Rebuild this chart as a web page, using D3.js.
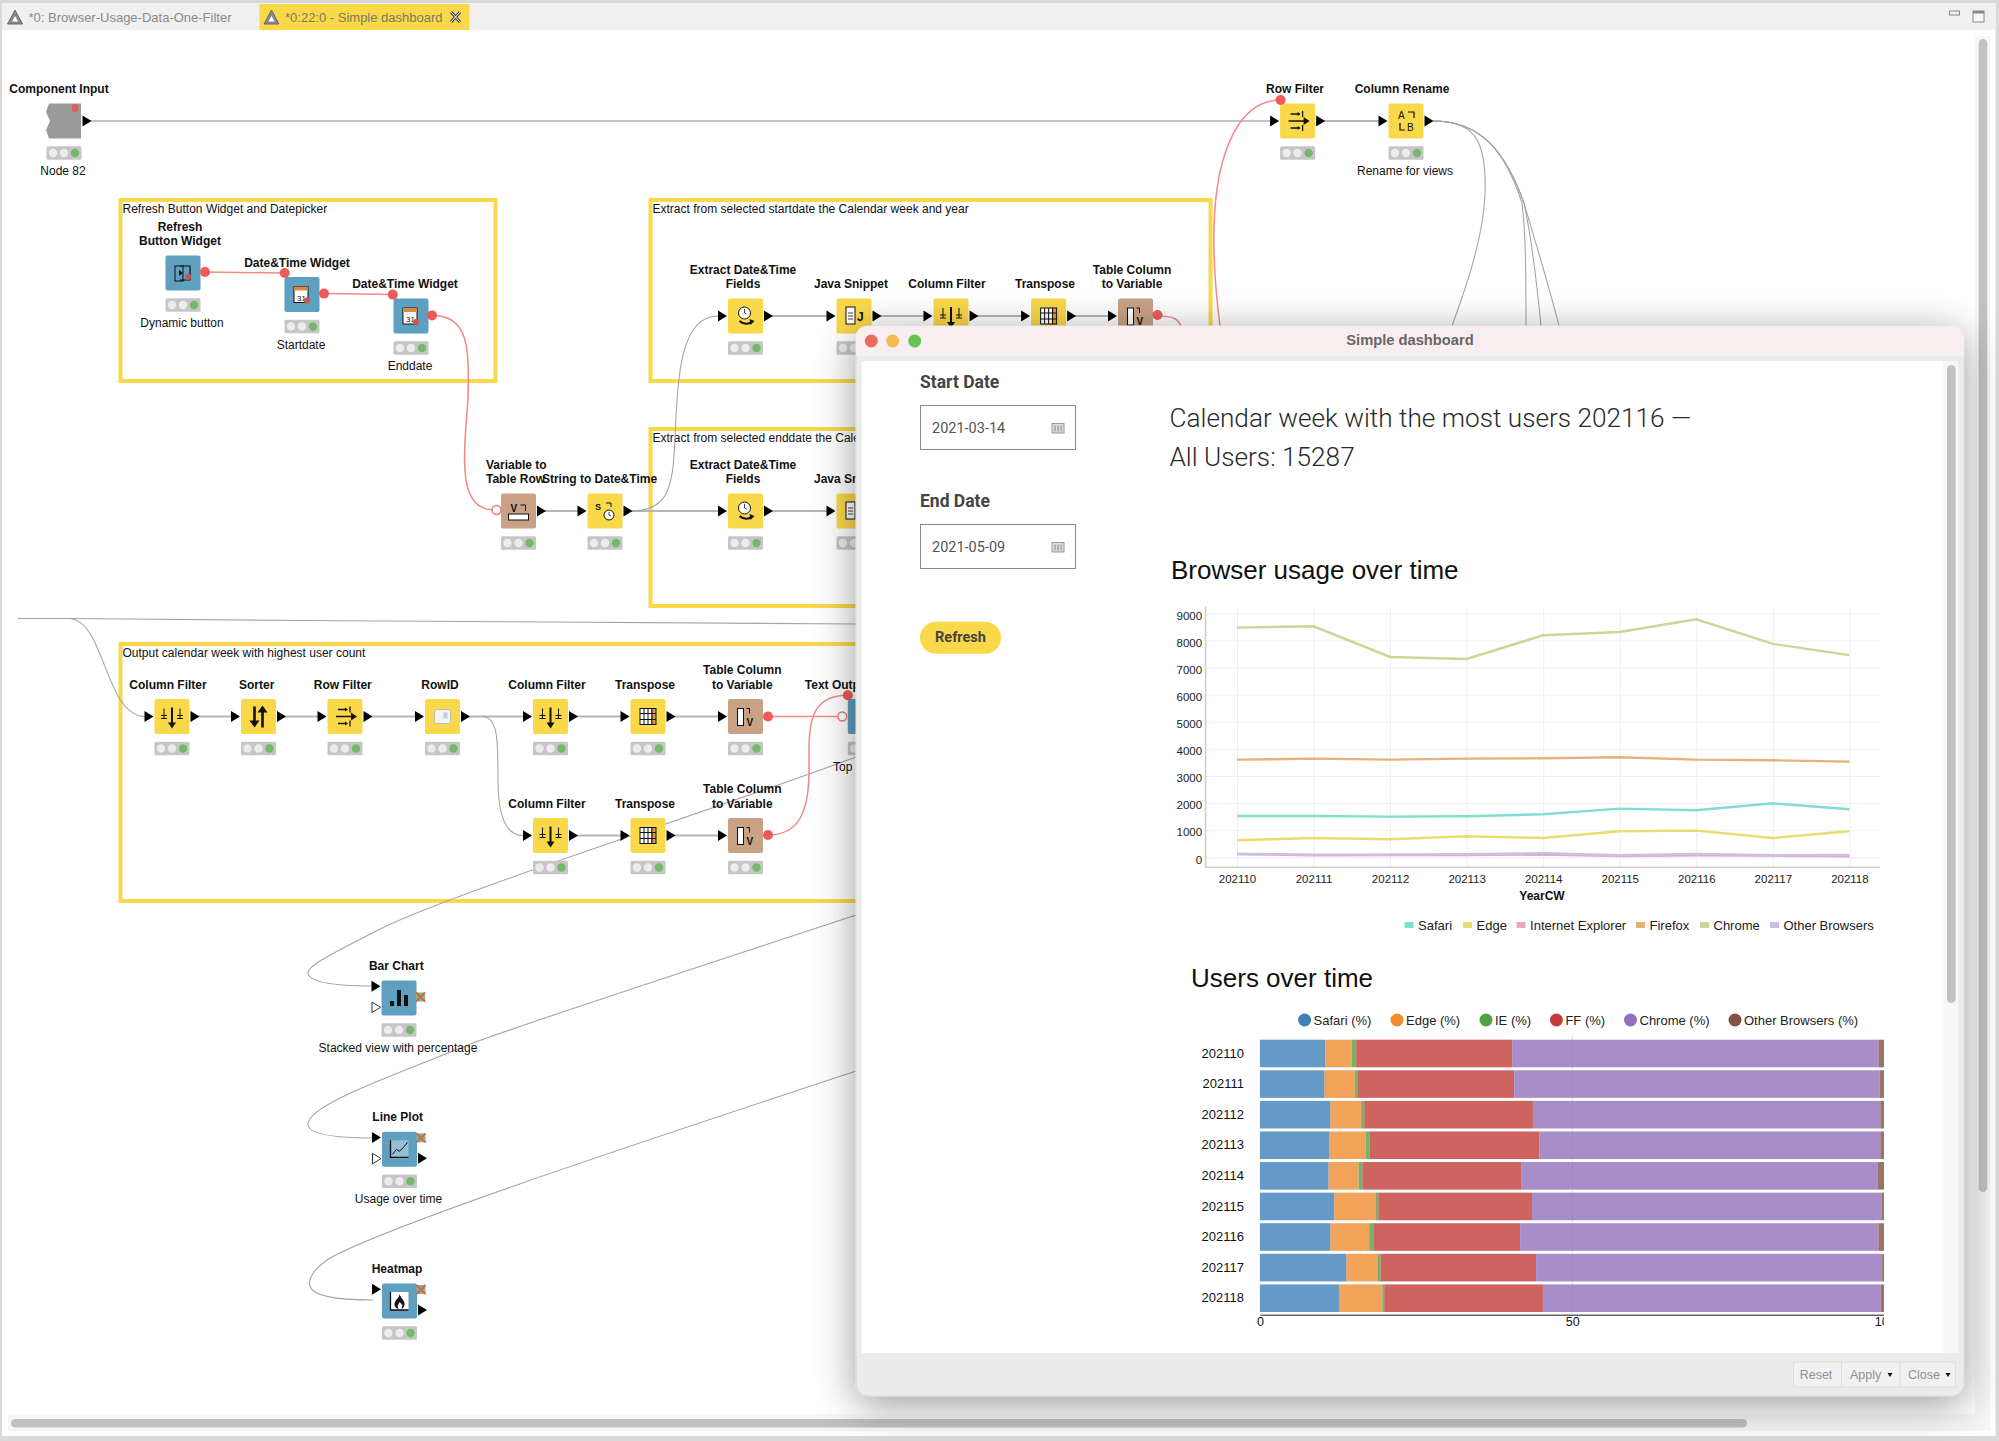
<!DOCTYPE html>
<html>
<head>
<meta charset="utf-8">
<title>Simple dashboard</title>
<script src="https://cdn.jsdelivr.net/npm/d3@7"></script>
<style>
  html, body { margin: 0; padding: 0; background: #d9d9d9; }
  svg { display: block; font-family: "Liberation Sans", Arial, sans-serif; }
</style>
</head>
<body>
<svg id="view" width="1999" height="1441"></svg>
<script>
// chart values
const weeks = ["202110", "202111", "202112", "202113", "202114", "202115", "202116", "202117", "202118"];

const safariUsers = [1525, 1525, 1500, 1512, 1586, 1795, 1734, 1992, 1770];
const edgeUsers = [627, 713, 664, 775, 713, 959, 984, 713, 959];
const ieUsers = [120, 75, 86, 86, 100, 50, 75, 60, 40];
const firefoxUsers = [3602, 3640, 3602, 3640, 3652, 3689, 3602, 3578, 3529];
const chromeUsers = [8471, 8520, 7390, 7316, 8188, 8311, 8778, 7874, 7456];
const otherUsers = [123, 98, 98, 110, 147, 74, 123, 74, 86];
const lineNames = ["Safari", "Edge", "Internet Explorer", "Firefox", "Chrome", "Other Browsers"];
const yTicks = [0, 1000, 2000, 3000, 4000, 5000, 6000, 7000, 8000, 9000];

const safariPct = [10.5, 10.35, 11.3, 11.15, 11, 11.9, 11.3, 13.85, 12.65];
const edgePct = [4.2, 4.85, 4.9, 5.75, 4.8, 6.6, 6.2, 4.95, 6.95];
const iePct = [0.7, 0.5, 0.5, 0.7, 0.6, 0.45, 0.65, 0.5, 0.3];
const ffPct = [25, 25, 27, 27.1, 25.4, 24.6, 23.5, 24.9, 25.4];
const chromePct = [58.6, 58.5, 55.6, 54.6, 57.1, 55.95, 57.35, 55.4, 54.05];
const otherPct = [1, 0.8, 0.7, 0.7, 1.1, 0.5, 1, 0.4, 0.65];
const barNames = ["Safari (%)", "Edge (%)", "IE (%)", "FF (%)", "Chrome (%)", "Other Browsers (%)"];
const barTicks = [0, 50, 100];

// workflow canvas behind the dialog
const YELLOW = "#f9d84a", BLUE = "#5f9fc0", BROWN = "#c9a285", GREY = "#9a9a9a";
const workflowNodes = [
  { id: "input", x: 64, y: 121, fill: GREY, icon: "", title: ["Component Input"], tx: 59, note: "Node 82", noIn: true },
  { id: "rf0", x: 1297.6, y: 121, fill: YELLOW, icon: "rowfilter", title: ["Row Filter"], tx: 1295 },
  { id: "ren", x: 1406, y: 121, fill: YELLOW, icon: "rename", title: ["Column Rename"], tx: 1402, note: "Rename for views" },
  { id: "btn", x: 183, y: 273, fill: BLUE, icon: "refresh", title: ["Refresh", "Button Widget"], tx: 180, note: "Dynamic button", noIn: true, noOut: true },
  { id: "start", x: 302, y: 294.5, fill: BLUE, icon: "date", title: ["Date&Time Widget"], tx: 297, note: "Startdate", noIn: true, noOut: true },
  { id: "end", x: 411, y: 316, fill: BLUE, icon: "date", title: ["Date&Time Widget"], tx: 405, note: "Enddate", noIn: true, noOut: true },
  { id: "ex1", x: 745.5, y: 316, fill: YELLOW, icon: "extract", title: ["Extract Date&Time", "Fields"], tx: 743 },
  { id: "js1", x: 854, y: 316, fill: YELLOW, icon: "java", title: ["Java Snippet"], tx: 851 },
  { id: "cf1", x: 951, y: 316, fill: YELLOW, icon: "filter", title: ["Column Filter"], tx: 947 },
  { id: "tr1", x: 1048.6, y: 316, fill: YELLOW, icon: "transpose", title: ["Transpose"], tx: 1045 },
  { id: "tv1", x: 1135.5, y: 316, fill: BROWN, icon: "tcv", title: ["Table Column", "to Variable"], tx: 1132, noOut: true },
  { id: "v2t", x: 518.5, y: 511, fill: BROWN, icon: "v2t", title: ["Variable to", "Table Row"], tx: 486, left: true, noIn: true },
  { id: "s2d", x: 605, y: 511, fill: YELLOW, icon: "s2d", title: ["String to Date&Time"], tx: 599.5 },
  { id: "ex2", x: 745.5, y: 511, fill: YELLOW, icon: "extract", title: ["Extract Date&Time", "Fields"], tx: 743 },
  { id: "js2", x: 854, y: 511, fill: YELLOW, icon: "java", title: ["Java Snippet"], tx: 851 },
  { id: "cf2", x: 172, y: 716.5, fill: YELLOW, icon: "filter", title: ["Column Filter"], tx: 168 },
  { id: "sort", x: 258.5, y: 716.5, fill: YELLOW, icon: "sorter", title: ["Sorter"], tx: 256.7 },
  { id: "rf1", x: 345, y: 716.5, fill: YELLOW, icon: "rowfilter", title: ["Row Filter"], tx: 342.8 },
  { id: "rid", x: 442.5, y: 716.5, fill: YELLOW, icon: "rowid", title: ["RowID"], tx: 440 },
  { id: "cf3", x: 550.5, y: 716.5, fill: YELLOW, icon: "filter", title: ["Column Filter"], tx: 547 },
  { id: "tr3", x: 648, y: 716.5, fill: YELLOW, icon: "transpose", title: ["Transpose"], tx: 645 },
  { id: "tv3", x: 745.5, y: 716.5, fill: BROWN, icon: "tcv", title: ["Table Column", "to Variable"], tx: 742.3, noOut: true },
  { id: "txt", x: 865.3, y: 716.5, fill: BLUE, icon: "", title: ["Text Output"], tx: 838, noIn: true, noOut: true },
  { id: "cf4", x: 550.5, y: 835.5, fill: YELLOW, icon: "filter", title: ["Column Filter"], tx: 547 },
  { id: "tr4", x: 648, y: 835.5, fill: YELLOW, icon: "transpose", title: ["Transpose"], tx: 645 },
  { id: "tv4", x: 745.5, y: 835.5, fill: BROWN, icon: "tcv", title: ["Table Column", "to Variable"], tx: 742.3, noOut: true },
  { id: "bar", x: 399, y: 998, fill: BLUE, icon: "bar", title: ["Bar Chart"], tx: 396.3, note: "Stacked view with percentage", view: true },
  { id: "line", x: 399.5, y: 1149.3, fill: BLUE, icon: "line", title: ["Line Plot"], tx: 397.7, note: "Usage over time", view: true, out2: true },
  { id: "heat", x: 399.5, y: 1301, fill: BLUE, icon: "heat", title: ["Heatmap"], tx: 397, view: true, out2: true }
];
const straightLinks = [
  ["input", "rf0"], ["rf0", "ren"], ["ex1", "js1"], ["js1", "cf1"], ["cf1", "tr1"], ["tr1", "tv1"],
  ["v2t", "s2d"], ["s2d", "ex2"], ["ex2", "js2"],
  ["cf2", "sort"], ["sort", "rf1"], ["rf1", "rid"], ["rid", "cf3"], ["cf3", "tr3"], ["tr3", "tv3"],
  ["cf4", "tr4"], ["tr4", "tv4"]
];
const greyCurves = [
  "M632,511 C665,511 672,490 674,455 C678,400 674,316 718,316",
  "M483,716.5 C498,718 498,740 498,780 C498,815 505,835.5 523,835.5",
  "M18,618.5 L70,618.5 C105,621 105,716 145,716.5",
  "M70,618.5 L300,620.5 L856,624",
  "M1433,121 C1475,121 1487,140 1485,195 C1483,240 1465,290 1452,326",
  "M1433,121 C1480,121 1505,150 1522,203 C1526,235 1526,280 1526,326",
  "M1433,121 C1480,121 1505,150 1524,203 C1532,240 1537,285 1541,326",
  "M1433,121 C1480,121 1505,150 1524,203 C1538,250 1550,290 1559,326",
  "M856,757 C700,815 460,890 378,930 C340,950 307,965 308,973 C309,983 340,986 373,986",
  "M856,915 C720,960 520,1025 473,1043 C400,1073 305,1105 308,1125 C310,1136 345,1138 373,1138",
  "M856,1071 C700,1123 400,1220 330,1258 C315,1268 308,1278 310,1286 C313,1298 345,1300 373,1300"
];
const redCurves = [
  "M205,272 L284.7,273", "M324,293.6 L392.8,294.6",
  "M432,315.4 C470,315 469,350 468,400 C462,470 460,510 496,510",
  "M768,716.5 L842.3,716.5",
  "M768,835 C800,835 809,810 809,770 C809,730 806,695.3 847.8,695.3",
  "M1157.5,316 C1172,316 1180,318 1182,330",
  "M1280.6,100 C1240,100 1216,150 1214,227 C1213,265 1216,295 1220,326"
];
const flowPorts = [[205, 272], [284.7, 273], [324, 293.6], [392.8, 294.6], [432, 315.4], [768, 716.5], [768, 835], [847.8, 695.3], [1157.5, 315], [1280.6, 100]];
const openPorts = [[496.5, 510], [842.3, 716.5]];
const annotations = [
  { x: 120.5, y: 200, w: 375, h: 181, text: "Refresh Button Widget and Datepicker" },
  { x: 650.5, y: 200, w: 560, h: 181, text: "Extract from selected startdate the Calendar week and year" },
  { x: 650.5, y: 429, w: 560, h: 177, text: "Extract from selected enddate the Calendar week and year" },
  { x: 120.5, y: 644, w: 1000, h: 257, text: "Output calendar week with highest user count" }
];

const svg = d3.select("#view");
const defs = svg.append("defs");
const shadow = defs.append("filter").attr("id", "dialogShadow")
  .attr("x", "-15%").attr("y", "-15%").attr("width", "130%").attr("height", "130%");
shadow.append("feDropShadow").attr("dx", 0).attr("dy", 8).attr("stdDeviation", 20)
  .attr("flood-color", "#000").attr("flood-opacity", 0.4);
defs.append("clipPath").attr("id", "barClip").append("rect")
  .attr("x", 1170).attr("y", 1000).attr("width", 714).attr("height", 352);

function text(g, x, y, str, size, opts = {}) {
  return g.append("text").attr("x", x).attr("y", y).text(str)
    .attr("font-size", size)
    .attr("font-weight", opts.weight || 400)
    .attr("font-family", opts.font || null)
    .attr("text-anchor", opts.anchor || "start")
    .attr("fill", opts.fill || "#111");
}

// ----- window chrome -----
const chrome = svg.append("g");
chrome.append("rect").attr("x", 2).attr("y", 3).attr("width", 1993.5).attr("height", 1433).attr("fill", "#fff");
chrome.append("rect").attr("x", 2).attr("y", 3).attr("width", 1993.5).attr("height", 27).attr("fill", "#f0f0f0");
chrome.append("rect").attr("x", 259.5).attr("y", 4).attr("width", 210).attr("height", 26).attr("fill", YELLOW);

function warnTriangle(x, y) {
  chrome.append("path").attr("d", `M${x},${y - 7} L${x + 7.5},${y + 7} L${x - 7.5},${y + 7} Z`)
    .attr("fill", "#888").attr("stroke", "#666");
  chrome.append("path").attr("d", `M${x},${y - 1} L${x + 3},${y + 4.5} L${x - 3},${y + 4.5} Z`).attr("fill", "#fff");
}
warnTriangle(15, 17);
warnTriangle(271.5, 17);
text(chrome, 28.5, 21.5, "*0: Browser-Usage-Data-One-Filter", 13, { fill: "#8a8a8a" });
text(chrome, 285, 21.5, "*0:22:0 - Simple dashboard", 13, { fill: "#7d7a5c" });
chrome.append("path").attr("d", "M451,12 L460,22 M460,12 L451,22").attr("stroke", "#444").attr("stroke-width", 3);
chrome.append("path").attr("d", "M451,12 L460,22 M460,12 L451,22").attr("stroke", "#fff").attr("stroke-width", 1);

chrome.append("rect").attr("x", 1949.5).attr("y", 11).attr("width", 10).attr("height", 4).attr("fill", "#eee").attr("stroke", "#888");
chrome.append("rect").attr("x", 1973).attr("y", 11).attr("width", 11).attr("height", 11).attr("fill", "#f6f6f6").attr("stroke", "#888");
chrome.append("rect").attr("x", 1973).attr("y", 11).attr("width", 11).attr("height", 2.5).attr("fill", "#888");

chrome.append("rect").attr("x", 1975).attr("y", 36).attr("width", 15).attr("height", 1378).attr("fill", "#f6f6f6");
chrome.append("rect").attr("x", 1978.7).attr("y", 39).attr("width", 8.6).attr("height", 1153).attr("rx", 4.3).attr("fill", "#c2c2c2");
chrome.append("rect").attr("x", 8).attr("y", 1414).attr("width", 1982).attr("height", 17).attr("fill", "#f6f6f6");
chrome.append("rect").attr("x", 11).attr("y", 1419).attr("width", 1736).attr("height", 8.6).attr("rx", 4.3).attr("fill", "#c0c0c0");

// ----- workflow -----
const flow = svg.append("g");
const nodeById = new Map(workflowNodes.map((d) => [d.id, d]));

annotations.forEach((d) => {
  flow.append("rect").attr("x", d.x).attr("y", d.y).attr("width", d.w).attr("height", d.h)
    .attr("fill", "none").attr("stroke", YELLOW).attr("stroke-width", 4);
  text(flow, d.x + 2, d.y + 13, d.text, 12);
});

straightLinks.forEach(([a, b]) => {
  const from = nodeById.get(a), to = nodeById.get(b);
  flow.append("line").attr("x1", from.x + 26).attr("y1", from.y).attr("x2", to.x - 26).attr("y2", to.y)
    .attr("stroke", a === "input" ? "#888" : "#b5b5b5").attr("stroke-width", a === "input" ? 1.2 : 2);
});
flow.selectAll("path.curve").data(greyCurves).enter().append("path").attr("class", "curve")
  .attr("d", (d) => d).attr("fill", "none").attr("stroke", "#a5a5a5").attr("stroke-width", 1.1);
flow.selectAll("path.red").data(redCurves).enter().append("path").attr("class", "red")
  .attr("d", (d) => d).attr("fill", "none").attr("stroke", "#f28a84").attr("stroke-width", 1.5);

function drawIcon(g, kind) {
  const stroke = (d, w) => g.append("path").attr("d", d).attr("fill", "none").attr("stroke", "#111").attr("stroke-width", w || 1.4);
  const solid = (d) => g.append("path").attr("d", d).attr("fill", "#111");
  const box = (x, y, w, h, fill) => g.append("rect").attr("x", x).attr("y", y).attr("width", w).attr("height", h)
    .attr("fill", fill || "#fff").attr("stroke", "#111").attr("stroke-width", 1);
  const clock = (x, y, r) => {
    g.append("circle").attr("cx", x).attr("cy", y).attr("r", r).attr("fill", "#fff").attr("stroke", "#111");
    stroke(`M${x},${y - r + 2} L${x},${y} L${x + 2},${y + 1}`, 0.8);
  };
  if (kind === "filter") {
    stroke("M0,-9 L0,8", 2);
    solid("M-4,6 L4,6 L0,12 Z");
    stroke("M-8,-8 L-8,2 M8,-8 L8,2 M-11,-1 L-5,-1 M5,-1 L11,-1 M-11,2 L-5,2 M5,2 L11,2", 1);
  } else if (kind === "sorter") {
    stroke("M-4,-10 L-4,8", 2.6);
    solid("M-9,4 L1,4 L-4,11 Z");
    stroke("M4,-6 L4,11", 2.6);
    solid("M-1,-4 L9,-4 L4,-11 Z");
  } else if (kind === "rowfilter") {
    stroke("M-9,0 L7,0 M-7,-7 L1,-7 M-7,7 L1,7 M5,-10 L5,-4 M5,4 L5,10", 1.3);
    solid("M6,-4 L12,0 L6,4 Z");
    solid("M0,-9 L3,-7 L0,-5 Z");
    solid("M0,5 L3,7 L0,9 Z");
  } else if (kind === "rowid") {
    g.append("rect").attr("x", -8).attr("y", -7).attr("width", 16).attr("height", 14).attr("rx", 2)
      .attr("fill", "#f4f4f4").attr("stroke", "#bbb");
    g.append("rect").attr("x", 1).attr("y", -4).attr("width", 4).attr("height", 6).attr("fill", "#c4cdd8");
  } else if (kind === "transpose") {
    box(-8, -8, 12, 16);
    box(4, -8, 4, 16, "#e59a4a");
    stroke("M-4,-8 L-4,8 M0,-8 L0,8 M-8,-3 L8,-3 M-8,3 L8,3", 1);
  } else if (kind === "tcv") {
    box(-8, -8, 6, 17);
    stroke("M1,-8 L4,-8 L4,-3", 1);
    text(g, 1, 9, "V", 10, { weight: 700 });
  } else if (kind === "extract") {
    clock(-1, -3, 6);
    stroke("M-6,5 C-2,9 4,8 6,6", 2);
    solid("M4,3 L9,5 L5,9 Z");
  } else if (kind === "java") {
    box(-8, -9, 9, 17);
    stroke("M-6,-3 L-1,-3 M-6,0 L-1,0 M-6,3 L-1,3", 0.8);
    text(g, 3, 5, "J", 12, { weight: 700 });
  } else if (kind === "rename") {
    text(g, -8, -2, "A", 10);
    text(g, 1, 10, "B", 10);
    stroke("M2,-9 L8,-9 L8,-3 M-6,2 L-6,9 L-1,9", 1.2);
  } else if (kind === "s2d") {
    text(g, -10, -1, "S", 9, { weight: 700 });
    stroke("M1,-8 L6,-8 L6,-4", 1);
    clock(4, 4, 5);
  } else if (kind === "v2t") {
    text(g, -8, 1, "V", 10, { weight: 700 });
    stroke("M2,-6 L7,-6 L7,0", 1);
    box(-10, 3, 20, 6);
  } else if (kind === "refresh") {
    box(-8, -7, 8, 15, "none");
    stroke("M-3,-7 L7,-7 L7,7 L-3,7", 1.2);
    solid("M-4,-3 L0,0 L-4,3 Z");
    g.append("circle").attr("cx", 5).attr("cy", 4).attr("r", 3).attr("fill", "#cf5555");
  } else if (kind === "date") {
    box(-8, -8, 14, 16);
    g.append("rect").attr("x", -8).attr("y", -8).attr("width", 14).attr("height", 4).attr("fill", "#d98a3c");
    text(g, -5, 6, "31", 8);
    g.append("circle").attr("cx", 5).attr("cy", 6).attr("r", 3).attr("fill", "#cf5555");
  } else if (kind === "bar") {
    solid("M-9,3 h4 v5 h-4 Z M-2,-8 h4 v16 h-4 Z M5,-3 h4 v11 h-4 Z");
  } else if (kind === "line") {
    g.append("rect").attr("x", -9).attr("y", -9).attr("width", 18).attr("height", 18).attr("fill", "#e8eef2").attr("opacity", 0.4);
    stroke("M-9,-9 L-9,8 L9,8", 1.3);
    stroke("M-7,5 L-3,0 L0,2 L4,-2 L8,-7", 1);
  } else if (kind === "heat") {
    g.append("rect").attr("x", -9).attr("y", -9).attr("width", 18).attr("height", 18).attr("fill", "#fff");
    stroke("M-9,-9 L-9,9 L9,9", 1.3);
    solid("M0,-7 C1,-3 6,0 5,4 C4,7 2,8 2,8 L3,4 L0,1 L-2,5 L-1,8 C-5,7 -6,3 -4,0 C-2,-3 0,-4 0,-7 Z");
  }
}

const nodeGroups = flow.selectAll("g.node").data(workflowNodes).enter().append("g").attr("class", "node");
nodeGroups.each(function (d) {
  const g = d3.select(this);
  const titleLines = d.title.length;
  d.title.forEach((line, i) => {
    const y = d.y - 32 - (titleLines - 1 - i) * 14.4 + 4;
    text(g, d.tx, y, line, 12, { weight: 700, anchor: d.left ? "start" : "middle" });
  });
  if (d.note) text(g, d.x - 1, d.y + 54, d.note, 12, { anchor: "middle" });

  const body = g.append("g").attr("transform", `translate(${d.x},${d.y})`);
  if (d.id === "input") {
    body.append("path").attr("d", "M-15,-17.5 H17 V17.5 H-15 L-18,9 L-14,0 L-18,-9 Z").attr("fill", GREY);
    body.append("rect").attr("x", 8).attr("y", -17).attr("width", 6).attr("height", 8).attr("rx", 2).attr("fill", "#e25a5a");
  } else {
    body.append("rect").attr("x", -17.5).attr("y", -17.5).attr("width", 35).attr("height", 35).attr("rx", 2).attr("fill", d.fill);
  }
  drawIcon(body, d.icon);

  if (!d.noIn) {
    const inY = d.view ? -11.7 : 0;
    body.append("path").attr("d", `M-27.5,${inY - 5.5} L-18.5,${inY} L-27.5,${inY + 5.5} Z`).attr("fill", "#000");
  }
  if (d.view) {
    if (d.id !== "heat") {
      body.append("path").attr("d", "M-27,4 L-18.5,9.3 L-27,14.5 Z").attr("fill", "#fff").attr("stroke", "#333");
    }
    const xY = d.id === "bar" ? -1 : -11.5;
    body.append("rect").attr("x", 17).attr("y", xY - 4.5).attr("width", 9).attr("height", 9).attr("fill", "#7dbb83");
    body.append("path").attr("d", `M17,${xY - 4.5} L26,${xY + 4.5} M26,${xY - 4.5} L17,${xY + 4.5}`)
      .attr("stroke", "#d8604f").attr("stroke-width", 1.8);
    if (d.out2) body.append("path").attr("d", "M18.5,3.5 L27.5,9 L18.5,14.5 Z").attr("fill", "#000");
  } else if (!d.noOut) {
    body.append("path").attr("d", "M18.5,-5.5 L27.5,0 L18.5,5.5 Z").attr("fill", "#000");
  }

  const lights = body.append("g").attr("transform", "translate(0,32)");
  lights.append("rect").attr("x", -17.5).attr("y", -6.8).attr("width", 35).attr("height", 13.6).attr("rx", 1.5).attr("fill", "#c6c6c6");
  [-11, 0, 11].forEach((dx, i) => {
    lights.append("circle").attr("cx", dx).attr("r", 4.2).attr("fill", i === 2 ? "#74b96a" : "#ececec");
  });
});
text(flow, 833, 771, "Top 1", 12);

flow.selectAll("circle.flow").data(flowPorts).enter().append("circle").attr("class", "flow")
  .attr("cx", (d) => d[0]).attr("cy", (d) => d[1]).attr("r", 5).attr("fill", "#ee5a5a");
flow.selectAll("circle.open").data(openPorts).enter().append("circle").attr("class", "open")
  .attr("cx", (d) => d[0]).attr("cy", (d) => d[1]).attr("r", 4.5).attr("fill", "#fff").attr("stroke", "#ee7a7a").attr("stroke-width", 1.4);

// ----- dialog -----
const dialog = svg.append("g");
dialog.append("rect").attr("x", 856).attr("y", 326).attr("width", 1108).attr("height", 1070).attr("rx", 12)
  .attr("fill", "#ececec").attr("stroke", "#d6d6d6").attr("filter", "url(#dialogShadow)");
dialog.append("path").attr("d", "M856,356 V338 Q856,326 868,326 H1952 Q1964,326 1964,338 V356 Z").attr("fill", "#f8eeef");
dialog.append("rect").attr("x", 862).attr("y", 361).attr("width", 1081).attr("height", 992).attr("fill", "#fff");
dialog.append("rect").attr("x", 1943).attr("y", 361).attr("width", 15).attr("height", 992).attr("fill", "#f7f7f7");
dialog.append("rect").attr("x", 1947).attr("y", 365).attr("width", 8.6).attr("height", 638).attr("rx", 4.3).attr("fill", "#c2c2c2");

[[871.3, "#ee6a60"], [892.7, "#f4bc4e"], [914.7, "#62c554"]].forEach(([x, c]) => {
  dialog.append("circle").attr("cx", x).attr("cy", 341).attr("r", 6.5).attr("fill", c);
});
text(dialog, 1410, 345, "Simple dashboard", 14.7, { weight: 700, anchor: "middle", fill: "#666" });

const roboto = "Roboto, 'Liberation Sans', sans-serif";
function dateField(label, labelY, boxY, value) {
  text(dialog, 920, labelY, label, 17.5, { font: roboto, weight: 700, fill: "#444" });
  dialog.append("rect").attr("x", 920.5).attr("y", boxY).attr("width", 155).attr("height", 44)
    .attr("fill", "#fff").attr("stroke", "#8a8a8a");
  text(dialog, 932, boxY + 27.5, value, 14.5, { font: roboto, fill: "#555" });
  dialog.append("rect").attr("x", 1052).attr("y", boxY + 18).attr("width", 12).attr("height", 9.5)
    .attr("fill", "#ddd").attr("stroke", "#999");
  dialog.append("path").attr("d", `M1055,${boxY + 20} v6 M1058,${boxY + 20} v6 M1061,${boxY + 20} v6`)
    .attr("stroke", "#888");
}
dateField("Start Date", 388, 405.5, "2021-03-14");
dateField("End Date", 507, 524.5, "2021-05-09");
dialog.append("rect").attr("x", 920).attr("y", 621.7).attr("width", 81).attr("height", 32).attr("rx", 16).attr("fill", YELLOW);
text(dialog, 960.5, 642, "Refresh", 14.5, { font: roboto, weight: 700, anchor: "middle", fill: "#444" });

text(dialog, 1169.5, 427, "Calendar week with the most users 202116 —", 26.2, { font: roboto, weight: 300, fill: "#2a2a2a" });
text(dialog, 1169.5, 466, "All Users: 15287", 26.2, { font: roboto, weight: 300, fill: "#2a2a2a" });

text(dialog, 1171, 579, "Browser usage over time", 26, { fill: "#111" });
text(dialog, 1191, 987, "Users over time", 26, { fill: "#111" });

// footer buttons
[[1793.5, 48], [1841.5, 58.5], [1900, 55.5]].forEach(([x, w]) => {
  dialog.append("rect").attr("x", x).attr("y", 1362).attr("width", w).attr("height", 25)
    .attr("fill", "#f1f1f1").attr("stroke", "#dedede");
});
text(dialog, 1816, 1379, "Reset", 12.5, { anchor: "middle", fill: "#909090" });
text(dialog, 1850, 1379, "Apply", 12.5, { fill: "#909090" });
text(dialog, 1908, 1379, "Close", 12.5, { fill: "#909090" });
dialog.append("path").attr("d", "M1887.5,1373 h5 l-2.5,4 Z M1945.5,1373 h5 l-2.5,4 Z").attr("fill", "#111");

// ----- line chart -----
const lineSeries = [safariUsers, edgeUsers, ieUsers, firefoxUsers, chromeUsers, otherUsers];
const lineColors = ["#7fdfd2", "#e8dd6e", "#e9a8b6", "#e6b27c", "#c9d898", "#cbbfe6"];
const lineLegendX = [1404.6, 1463, 1516.6, 1636, 1700, 1770];

const lineX = d3.scalePoint().domain(weeks).range([1237, 1849.4]);
const lineY = d3.scaleLinear().domain([0, 9000]).range([857.3, 613.3]);
const lineChart = dialog.append("g");

const gridY = lineChart.append("g").attr("transform", "translate(1205.6,0)")
  .call(d3.axisLeft(lineY).tickValues(yTicks).tickSize(-674.4).tickPadding(3.5).tickFormat(d3.format("d")));
gridY.select(".domain").remove();
gridY.selectAll("line").attr("stroke", "#eeeeee").attr("stroke-width", 1);
gridY.selectAll("text").attr("font-size", 11.5).attr("font-family", "'Liberation Sans'").attr("fill", "#222").attr("dy", ".5em");

const gridX = lineChart.append("g").attr("transform", "translate(0,867.3)")
  .call(d3.axisBottom(lineX).tickSize(-260.6).tickPadding(8));
gridX.select(".domain").remove();
gridX.selectAll("line").attr("stroke", "#eeeeee").attr("stroke-width", 1);
gridX.selectAll("text").attr("font-size", 11.5).attr("font-family", "'Liberation Sans'").attr("fill", "#222");

lineChart.append("path").attr("d", "M1205.6,606.7 V867.3 H1880").attr("fill", "none").attr("stroke", "#cfcfcf").attr("stroke-width", 1.6);
text(lineChart, 1542, 900, "YearCW", 12, { weight: 700, anchor: "middle" });

const lineGen = d3.line().x((d, i) => lineX(weeks[i])).y((d) => lineY(d));
lineChart.selectAll("path.series").data(lineSeries).enter().append("path").attr("class", "series")
  .attr("d", lineGen).attr("fill", "none").attr("stroke", (d, i) => lineColors[i]).attr("stroke-width", 2.4);

lineNames.forEach((name, i) => {
  lineChart.append("rect").attr("x", lineLegendX[i]).attr("y", 922).attr("width", 9).attr("height", 6).attr("fill", lineColors[i]);
  text(lineChart, lineLegendX[i] + 13.5, 930, name, 13, { fill: "#222" });
});

// ----- stacked bars -----
const barSeries = [safariPct, edgePct, iePct, ffPct, chromePct, otherPct];
const barColors = ["#3f80b9", "#ef8c31", "#4fa245", "#c23c38", "#9272ba", "#815142"];
const barLegendX = [1304.6, 1397, 1486, 1556.4, 1630.5, 1735];

const rows = weeks.map((week, i) => {
  const row = { week };
  barNames.forEach((name, k) => { row[name] = barSeries[k][i]; });
  return row;
});
const stacked = d3.stack().keys(barNames)(rows);

const barX = d3.scaleLinear().domain([0, 100]).range([1259.9, 1884.7]);
const barY = d3.scaleBand().domain(weeks).range([1038.2, 1313.5]).paddingInner(0.0975).paddingOuter(0.04875);
const barChart = dialog.append("g");
const clipped = barChart.append("g").attr("clip-path", "url(#barClip)");

clipped.append("line").attr("x1", barX(50)).attr("x2", barX(50)).attr("y1", 1036).attr("y2", 1314).attr("stroke", "#ddd");
stacked.forEach((layer, k) => {
  clipped.append("g").attr("fill", barColors[k]).attr("fill-opacity", 0.8)
    .selectAll("rect").data(layer).enter().append("rect")
    .attr("x", (d) => barX(d[0])).attr("y", (d) => barY(d.data.week))
    .attr("width", (d) => barX(d[1]) - barX(d[0])).attr("height", barY.bandwidth());
});

const barAxisX = clipped.append("g").attr("transform", "translate(0,1314.7)")
  .call(d3.axisBottom(barX).tickValues(barTicks).tickSize(0).tickPadding(2));
barAxisX.select(".domain").attr("stroke", "#666").attr("stroke-width", 1.6);
barAxisX.selectAll("text").attr("font-size", 12.5).attr("font-family", "'Liberation Sans'").attr("fill", "#111");

const barAxisY = barChart.append("g").attr("transform", "translate(1259.9,0)")
  .call(d3.axisLeft(barY).tickSize(0).tickPadding(16));
barAxisY.select(".domain").remove();
barAxisY.selectAll("text").attr("font-size", 13).attr("font-family", "'Liberation Sans'").attr("fill", "#111");

barNames.forEach((name, i) => {
  barChart.append("circle").attr("cx", barLegendX[i]).attr("cy", 1020).attr("r", 6.5)
    .attr("fill", barColors[i]);
  text(barChart, barLegendX[i] + 9, 1024.5, name, 13, { fill: "#222" });
});
</script>
</body>
</html>
